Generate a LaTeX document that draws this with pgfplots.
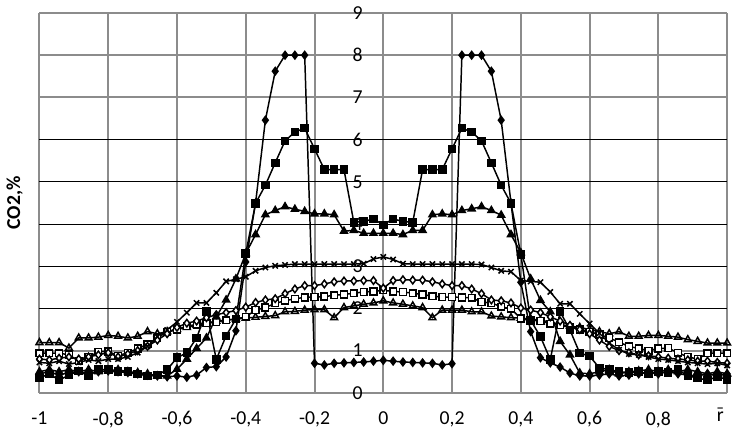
\documentclass[border=0pt]{standalone}
\usepackage{fontspec}
\setmainfont{Carlito}
\usepackage{pgfplots}
\usepackage{pgfplotstable}
\pgfplotsset{compat=1.18}
\definecolor{gridgray}{RGB}{140,140,140}

% radial CO2 profiles, x = r/R
\pgfplotstableread{
x       A    B    C    D    E    F    G
-1.0000 0.45 0.35 0.50 0.72 0.80 0.94 1.19
-0.9714 0.50 0.45 0.55 0.70 0.78 0.94 1.19
-0.9429 0.42 0.30 0.50 0.75 0.82 0.94 1.19
-0.9143 0.48 0.42 0.55 0.68 0.85 0.90 1.06
-0.8857 0.50 0.52 0.50 0.72 0.80 0.75 1.30
-0.8571 0.45 0.40 0.55 0.78 0.85 0.85 1.30
-0.8286 0.50 0.55 0.50 0.75 0.90 0.97 1.32
-0.8000 0.52 0.55 0.52 0.80 0.95 0.98 1.36
-0.7714 0.50 0.50 0.55 0.80 0.85 0.88 1.34
-0.7429 0.48 0.50 0.50 0.85 0.92 0.95 1.30
-0.7143 0.45 0.45 0.48 0.95 1.00 1.05 1.34
-0.6857 0.42 0.40 0.45 1.10 1.10 1.15 1.45
-0.6571 0.40 0.42 0.40 1.33 1.25 1.30 1.40
-0.6286 0.38 0.55 0.40 1.49 1.40 1.45 1.45
-0.6000 0.40 0.83 0.56 1.68 1.55 1.50 1.50
-0.5714 0.37 0.95 0.80 1.90 1.65 1.58 1.55
-0.5429 0.42 1.30 1.05 2.13 1.70 1.62 1.60
-0.5143 0.60 1.93 1.30 2.13 1.78 1.65 1.65
-0.4857 0.62 0.79 1.80 2.37 1.85 1.68 1.70
-0.4571 0.85 1.35 2.20 2.64 1.90 1.72 1.72
-0.4286 1.47 1.75 2.70 2.69 1.95 1.75 1.75
-0.4000 3.10 3.30 3.30 2.75 2.03 1.80 1.77
-0.3714 4.50 4.49 3.75 2.89 2.14 1.96 1.79
-0.3429 6.46 4.92 4.22 2.97 2.20 2.02 1.81
-0.3143 7.62 5.45 4.32 3.01 2.23 2.12 1.83
-0.2857 8.00 5.97 4.41 3.03 2.35 2.18 1.92
-0.2571 8.00 6.18 4.35 3.05 2.46 2.23 1.93
-0.2286 8.00 6.27 4.30 3.05 2.54 2.26 1.96
-0.2000 0.70 5.78 4.24 3.05 2.54 2.27 1.97
-0.1714 0.66 5.29 4.24 3.05 2.58 2.28 1.97
-0.1429 0.70 5.29 4.22 3.05 2.63 2.31 1.78
-0.1143 0.71 5.29 3.83 3.05 2.65 2.33 2.02
-0.0857 0.72 4.04 3.85 3.05 2.65 2.36 2.06
-0.0571 0.73 4.06 3.78 3.06 2.66 2.39 2.10
-0.0286 0.75 4.12 3.78 3.17 2.66 2.40 2.13
 0.0000 0.77 3.98 3.78 3.22 2.48 2.43 2.18
 0.0286 0.75 4.12 3.78 3.16 2.66 2.40 2.13
 0.0571 0.73 4.06 3.75 3.06 2.68 2.39 2.10
 0.0857 0.72 4.04 3.85 3.05 2.67 2.36 2.06
 0.1143 0.71 5.29 3.85 3.05 2.67 2.33 2.02
 0.1429 0.70 5.29 4.22 3.05 2.63 2.29 1.78
 0.1714 0.66 5.29 4.24 3.05 2.58 2.27 1.96
 0.2000 0.69 5.78 4.22 3.05 2.54 2.27 1.96
 0.2286 8.00 6.27 4.32 3.05 2.54 2.26 1.96
 0.2571 8.00 6.18 4.36 3.05 2.46 2.25 1.92
 0.2857 8.00 5.97 4.41 3.04 2.35 2.15 1.92
 0.3143 7.62 5.45 4.32 2.97 2.20 2.13 1.82
 0.3429 6.46 4.92 4.21 2.89 2.18 2.04 1.80
 0.3714 4.50 4.49 3.75 2.87 2.13 1.99 1.78
 0.4000 2.62 3.28 3.32 2.66 2.01 1.76 1.77
 0.4286 1.45 1.72 2.70 2.64 1.96 1.73 1.75
 0.4571 0.83 1.33 2.19 2.62 1.90 1.70 1.72
 0.4857 0.71 0.79 1.92 2.39 1.80 1.64 1.68
 0.5143 0.61 1.92 1.22 2.11 1.70 1.60 1.62
 0.5429 0.47 1.49 0.90 2.11 1.60 1.55 1.58
 0.5714 0.40 0.94 0.47 1.87 1.50 1.50 1.55
 0.6000 0.40 0.87 0.45 1.64 1.40 1.45 1.50
 0.6286 0.42 0.59 0.50 1.41 1.25 1.38 1.45
 0.6571 0.45 0.55 0.55 1.18 1.10 1.30 1.40
 0.6857 0.40 0.50 0.45 1.02 1.00 1.20 1.45
 0.7143 0.42 0.48 0.50 0.92 0.95 1.10 1.34
 0.7429 0.45 0.50 0.52 0.90 0.90 1.05 1.34
 0.7714 0.48 0.45 0.55 0.85 0.88 1.00 1.36
 0.8000 0.45 0.50 0.50 0.80 0.85 1.05 1.36
 0.8286 0.50 0.48 0.55 0.78 0.82 1.06 1.34
 0.8571 0.45 0.55 0.50 0.75 0.80 0.95 1.32
 0.8857 0.42 0.40 0.55 0.72 0.78 0.85 1.26
 0.9143 0.40 0.35 0.50 0.70 0.75 0.80 1.22
 0.9429 0.45 0.30 0.45 0.68 0.75 0.94 1.18
 0.9714 0.40 0.38 0.50 0.70 0.72 0.94 1.18
 1.0000 0.45 0.32 0.45 0.65 0.70 0.94 1.18
}\profiles

% r with a bar over it (Carlito has no combining macron)
\newcommand{\rbar}{\ooalign{\hfil r\hfil\cr\hfil\raisebox{0.3pt}{¯}\hfil}}

\begin{document}
\begin{tikzpicture}
\begin{axis}[
    scale only axis,
    width=348.5pt, height=192.5pt,
    xmin=-1, xmax=1, ymin=0, ymax=9,
    axis x line=bottom, axis y line=center,
    axis line style={-, draw=gridgray, line width=1pt},
    hide obscured x ticks=false, hide obscured y ticks=false,
    major tick length=0pt,
    xtick={-1,-0.8,-0.6,-0.4,-0.2,0,0.2,0.4,0.6,0.8,1},
    xticklabels={-1,{-0,8},{-0,6},{-0,4},{-0,2},0,{0,2},{0,4},{0,6},{0,8},{\hbox to 0pt{\hss\rbar\hspace{1.5pt}}}},
    xticklabel style={yshift=-6pt},
    ytick={0,1,7,8,9},
    yticklabels={0,1,7,8,9},
    extra y ticks={2,3,4,5,6},
    extra y tick labels={2,3,4,5,6},
    extra y tick style={major grid style={draw=black, line width=0.5pt}},
    yticklabel style={anchor=east, xshift=-7pt},
    grid=major,
    major grid style={draw=gridgray, line width=1pt},
    clip=false,
    every axis plot/.append style={black, line width=0.75pt},
]
\addplot[mark=triangle, mark size=2pt, mark options={solid, fill=white}] table[x=x, y=G]{\profiles};
\addplot[mark=square*, mark size=1.7pt, mark options={solid, fill=white}] table[x=x, y=F]{\profiles};
\addplot[mark=diamond*, mark size=1.9pt, mark options={solid, fill=white}] table[x=x, y=E]{\profiles};
\addplot[mark=x, mark size=1.9pt, mark options={solid}] table[x=x, y=D]{\profiles};
\addplot[mark=triangle*, mark size=2pt, mark options={solid, fill=black}] table[x=x, y=C]{\profiles};
\addplot[mark=square*, mark size=1.8pt, mark options={solid, fill=black}] table[x=x, y=B]{\profiles};
\addplot[mark=diamond*, mark size=1.9pt, mark options={solid, fill=black}] table[x=x, y=A]{\profiles};
\node[rotate=90, anchor=south, font=\bfseries] at (axis description cs:-0.014,0.5) {CO2,\%};
\end{axis}
\path ([xshift=4pt]current axis.east);
\end{tikzpicture}
\end{document}
